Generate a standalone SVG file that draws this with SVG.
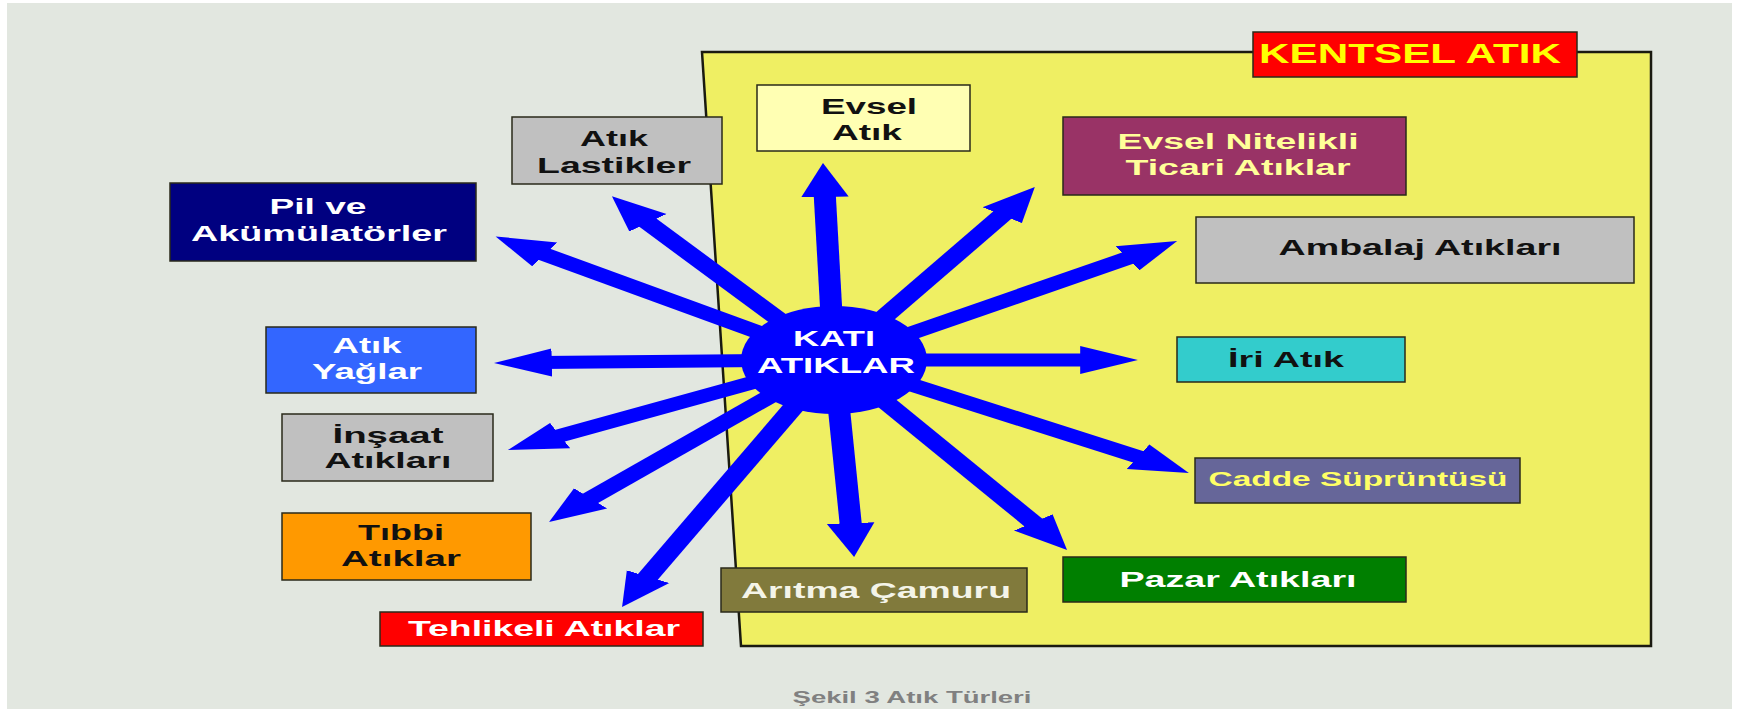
<svg xmlns="http://www.w3.org/2000/svg" width="1738" height="709" viewBox="0 0 1738 709">
<style>
.box{stroke:#2a2a1a;stroke-width:1.5}
.t{font-family:"Liberation Sans",Arial,sans-serif;font-weight:bold;font-size:22px;text-anchor:middle}
.dk{fill:#111111}
.wh{fill:#ffffff}
.shaft{stroke:#0000ff;stroke-width:13;fill:none}
</style>
<defs>
<marker id="ah" markerUnits="userSpaceOnUse" viewBox="0 -15 35 30" markerWidth="35" markerHeight="30" refX="7" refY="0" orient="auto">
<path d="M0,-14 L34,0 L0,14 z" fill="#0000ff"/>
</marker>
</defs>
<rect x="0" y="0" width="1738" height="709" fill="#ffffff"/>
<rect x="7" y="3" width="1725" height="706" fill="#e2e7e0"/>
<g id="kentsel-area">
<polygon points="702,52 1651,52 1651,646 741,646" fill="#efef63" stroke="#1a1a10" stroke-width="2.5"/>
</g>
<g id="kentsel-atik">
<rect class="box" x="1253" y="32" width="324" height="45" fill="#ff0000"/>
<text class="t" transform="translate(1410 63) scale(1.65 1)" style="font-size:27px" fill="#ffff00" textLength="183" lengthAdjust="spacingAndGlyphs">KENTSEL ATIK</text>
</g>
<g id="evsel-atik">
<rect class="box" x="757" y="85" width="213" height="66" fill="#ffffb3"/>
<text class="t dk" transform="translate(869 114) scale(1.65 1)" textLength="58.2" lengthAdjust="spacingAndGlyphs">Evsel</text>
<text class="t dk" transform="translate(867 140) scale(1.65 1)" textLength="42.4" lengthAdjust="spacingAndGlyphs">Atık</text>
</g>
<g id="atik-lastikler">
<rect class="box" x="512" y="117" width="210" height="67" fill="#c0c0c0"/>
<text class="t dk" transform="translate(614 146) scale(1.65 1)" textLength="41.2" lengthAdjust="spacingAndGlyphs">Atık</text>
<text class="t dk" transform="translate(614 173) scale(1.65 1)" textLength="93.3" lengthAdjust="spacingAndGlyphs">Lastikler</text>
</g>
<g id="pil-akumulator">
<rect class="box" x="170" y="183" width="306" height="78" fill="#000080"/>
<text class="t wh" transform="translate(318 214) scale(1.65 1)" textLength="58.8" lengthAdjust="spacingAndGlyphs">Pil ve</text>
<text class="t wh" transform="translate(319 241) scale(1.65 1)" textLength="155.2" lengthAdjust="spacingAndGlyphs">Akümülatörler</text>
</g>
<g id="evsel-nitelikli">
<rect class="box" x="1063" y="117" width="343" height="78" fill="#993366"/>
<text class="t" transform="translate(1238 149) scale(1.65 1)" fill="#ffff99" textLength="146.1" lengthAdjust="spacingAndGlyphs">Evsel Nitelikli</text>
<text class="t" transform="translate(1238 175) scale(1.65 1)" fill="#ffff99" textLength="136.4" lengthAdjust="spacingAndGlyphs">Ticari Atıklar</text>
</g>
<g id="ambalaj">
<rect class="box" x="1196" y="217" width="438" height="66" fill="#c0c0c0"/>
<text class="t dk" transform="translate(1420 255) scale(1.65 1)" textLength="171.5" lengthAdjust="spacingAndGlyphs">Ambalaj Atıkları</text>
</g>
<g id="atik-yaglar">
<rect class="box" x="266" y="327" width="210" height="66" fill="#3366ff"/>
<text class="t wh" transform="translate(367 353) scale(1.65 1)" textLength="41.8" lengthAdjust="spacingAndGlyphs">Atık</text>
<text class="t wh" transform="translate(367 379) scale(1.65 1)" textLength="66.7" lengthAdjust="spacingAndGlyphs">Yağlar</text>
</g>
<g id="iri-atik">
<rect class="box" x="1177" y="337" width="228" height="45" fill="#33cccc"/>
<text class="t dk" transform="translate(1286 367) scale(1.65 1)" textLength="70.3" lengthAdjust="spacingAndGlyphs">İri Atık</text>
</g>
<g id="insaat">
<rect class="box" x="282" y="414" width="211" height="67" fill="#c0c0c0"/>
<text class="t dk" transform="translate(388 443) scale(1.65 1)" textLength="67.3" lengthAdjust="spacingAndGlyphs">İnşaat</text>
<text class="t dk" transform="translate(388 468) scale(1.65 1)" textLength="77" lengthAdjust="spacingAndGlyphs">Atıkları</text>
</g>
<g id="cadde">
<rect class="box" x="1195" y="458" width="325" height="45" fill="#666699"/>
<text class="t" transform="translate(1358 486) scale(1.65 1)" style="font-size:21px" fill="#ffff66" textLength="181.2" lengthAdjust="spacingAndGlyphs">Cadde Süprüntüsü</text>
</g>
<g id="tibbi">
<rect class="box" x="282" y="513" width="249" height="67" fill="#ff9900"/>
<text class="t dk" transform="translate(401 540) scale(1.65 1)" textLength="52.1" lengthAdjust="spacingAndGlyphs">Tıbbi</text>
<text class="t dk" transform="translate(401 566) scale(1.65 1)" textLength="72.7" lengthAdjust="spacingAndGlyphs">Atıklar</text>
</g>
<g id="pazar">
<rect class="box" x="1063" y="557" width="343" height="45" fill="#007f00"/>
<text class="t wh" transform="translate(1238 587) scale(1.65 1)" textLength="143.6" lengthAdjust="spacingAndGlyphs">Pazar Atıkları</text>
</g>
<g id="aritma">
<rect class="box" x="721" y="568" width="306" height="44" fill="#817a3c"/>
<text class="t" transform="translate(876 598) scale(1.65 1)" fill="#f4f4e8" textLength="163.6" lengthAdjust="spacingAndGlyphs">Arıtma Çamuru</text>
</g>
<g id="tehlikeli">
<rect class="box" x="380" y="612" width="323" height="34" fill="#ff0000"/>
<text class="t wh" transform="translate(544 636) scale(1.65 1)" textLength="164.8" lengthAdjust="spacingAndGlyphs">Tehlikeli Atıklar</text>
</g>
<g id="connectors" transform="translate(834 360) scale(1.7 1)">
<line class="shaft" x1="0" y1="0" x2="-113.8" y2="-142.7" marker-end="url(#ah)"/>
<line class="shaft" x1="0" y1="0" x2="-176.1" y2="-109.3" marker-end="url(#ah)"/>
<line class="shaft" x1="0" y1="0" x2="-173" y2="2.6" marker-end="url(#ah)"/>
<line class="shaft" x1="0" y1="0" x2="-5.6" y2="-170" marker-end="url(#ah)"/>
<line class="shaft" x1="0" y1="0" x2="102.9" y2="-150.6" marker-end="url(#ah)"/>
<line class="shaft" x1="0" y1="0" x2="178.6" y2="-105.3" marker-end="url(#ah)"/>
<line class="shaft" x1="0" y1="0" x2="151.8" y2="0" marker-end="url(#ah)"/>
<line class="shaft" x1="0" y1="0" x2="185" y2="100.1" marker-end="url(#ah)"/>
<line class="shaft" x1="0" y1="0" x2="121.3" y2="168.1" marker-end="url(#ah)"/>
<line class="shaft" x1="0" y1="0" x2="10.2" y2="170.1" marker-end="url(#ah)"/>
<line class="shaft" x1="0" y1="0" x2="-112.5" y2="222.9" marker-end="url(#ah)"/>
<line class="shaft" x1="0" y1="0" x2="-148.2" y2="143.2" marker-end="url(#ah)"/>
<line class="shaft" x1="0" y1="0" x2="-167.4" y2="78.6" marker-end="url(#ah)"/>
</g>
<g id="kati-atiklar">
<ellipse cx="834" cy="360" rx="93" ry="54" fill="#0000ff"/>
<text class="t wh" transform="translate(834 346) scale(1.65 1)" textLength="49.7" lengthAdjust="spacingAndGlyphs">KATI</text>
<text class="t wh" transform="translate(836 373) scale(1.65 1)" textLength="95.8" lengthAdjust="spacingAndGlyphs">ATIKLAR</text>
</g>
<g id="caption">
<text class="t" transform="translate(912 703) scale(1.65 1)" style="font-size:16px" fill="#808080" textLength="144.8" lengthAdjust="spacingAndGlyphs">Şekil 3 Atık Türleri</text>
</g>
</svg>
